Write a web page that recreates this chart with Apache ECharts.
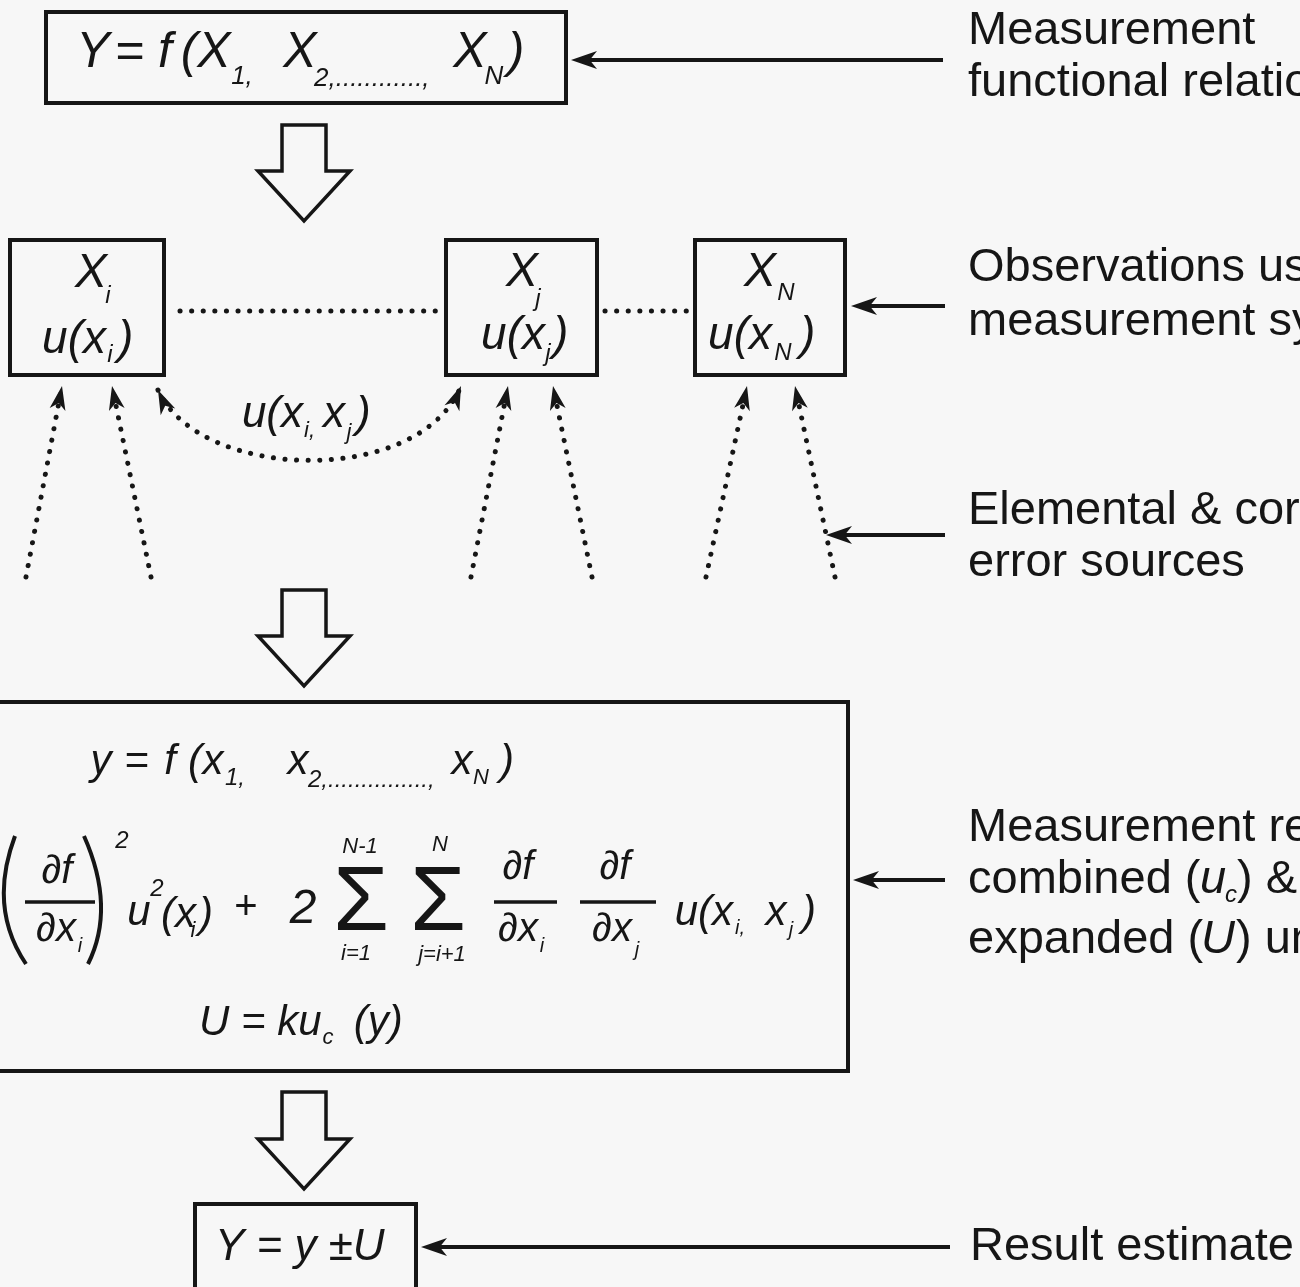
<!DOCTYPE html>
<html>
<head>
<meta charset="utf-8">
<title>Measurement uncertainty flow</title>
<script src="https://cdn.jsdelivr.net/npm/echarts@6/dist/echarts.min.js"></script>
<style>
  html, body { margin: 0; padding: 0; background: #f7f7f7; }
  #chart { width: 1300px; height: 1287px; }
</style>
</head>
<body>
<div id="chart"></div>
<script>
// drawing space = picture pixels, mapped through hidden value axes
const W = 1300
const H = 1287
const INK = '#161616'
const PAPER = '#f7f7f7'

// boxes: [x1, y1, x2, y2]
const boxes = [
  [46, 12, 566, 103],
  [10, 240, 164, 375],
  [446, 240, 597, 375],
  [695, 240, 845, 375],
  [-6, 702, 848, 1071],
  [195, 1204, 416, 1300]
]
// solid pointers from the side notes: [fromX, fromY, tipX, tipY]
const pointers = [
  [943, 60, 571, 60],
  [945, 306, 851, 306],
  [945, 535, 826, 535],
  [945, 880, 853, 880],
  [950, 1247, 421, 1247]
]
// hollow block arrows: [centerX, top, neck, tip]
const blockArrows = [
  [304, 125, 171, 221],
  [304, 590, 636, 686],
  [304, 1092, 1139, 1189]
]
// dotted links between the input boxes
const dottedLinks = [
  [180, 311, 440, 311],
  [605, 311, 688, 311]
]
// dotted arrows from the error sources up to the boxes: [fromX, fromY, tipX, tipY]
const sourceArrows = [
  [26, 577, 62, 386],
  [151, 577, 112, 386],
  [471, 577, 508, 386],
  [592, 577, 553, 386],
  [706, 577, 747, 386],
  [835, 577, 795, 386]
]
// correlation curve (cubic): start, control1, control2, end
const correlationCurve = [[158, 390], [200, 482], [420, 487], [461, 386]]
// big brackets of the formula (quadratic): [x1, y1, cpx, cpy, x2, y2]
const brackets = [
  [15, 836, -12, 908, 26, 964],
  [84, 836, 116, 908, 88, 964]
]
// fraction bars
const fractionBars = [
  [25, 902, 95, 902],
  [494, 902, 557, 902],
  [580, 902, 656, 902]
]
// text pieces: [x, y, text, size, 'i' italic | 'n' upright, align]
const texts = [
  // Y = f(X1, X2, ..., XN)
  [93, 53, 'Y', 50, 'i', 'c'],
  [130, 53, '=', 50, 'n', 'c'],
  [165, 53, 'f', 50, 'i', 'c'],
  [189, 53, '(', 50, 'i', 'c'],
  [214, 53, 'X', 50, 'i', 'c'],
  [242, 77, '1,', 26, 'i', 'c'],
  [300, 53, 'X', 50, 'i', 'c'],
  [314, 79, '2,............,', 26, 'i', 'l'],
  [470, 53, 'X', 50, 'i', 'c'],
  [494, 77, 'N', 26, 'i', 'c'],
  [516, 53, ')', 50, 'i', 'c'],
  // input boxes
  [91, 274, 'X', 48, 'i', 'c'],
  [108, 296, 'i', 24, 'i', 'c'],
  [106, 340, 'u(x', 46, 'i', 'r'],
  [110, 355, 'i', 24, 'i', 'c'],
  [118, 340, ')', 46, 'i', 'l'],
  [522, 273, 'X', 48, 'i', 'c'],
  [538, 299, 'j', 24, 'i', 'c'],
  [545, 336, 'u(x', 46, 'i', 'r'],
  [548, 354, 'j', 24, 'i', 'c'],
  [553, 336, ')', 46, 'i', 'l'],
  [760, 273, 'X', 48, 'i', 'c'],
  [786, 293, 'N', 24, 'i', 'c'],
  [772, 336, 'u(x', 46, 'i', 'r'],
  [783, 353, 'N', 24, 'i', 'c'],
  [800, 336, ')', 46, 'i', 'l'],
  // covariance label
  [303, 415, 'u(x', 44, 'i', 'r'],
  [304, 431, 'i,', 22, 'i', 'l'],
  [334, 415, 'x', 44, 'i', 'c'],
  [349, 433, 'j', 22, 'i', 'c'],
  [356, 415, ')', 44, 'i', 'l'],
  // y = f(x1, x2, ..., xN)
  [101, 762, 'y', 42, 'i', 'c'],
  [137, 762, '=', 42, 'n', 'c'],
  [170, 762, 'f', 42, 'i', 'c'],
  [195, 762, '(', 42, 'i', 'c'],
  [213, 762, 'x', 42, 'i', 'c'],
  [235, 778, '1,', 24, 'i', 'c'],
  [298, 762, 'x', 42, 'i', 'c'],
  [308, 780, '2,...............,', 24, 'i', 'l'],
  [462, 762, 'x', 42, 'i', 'c'],
  [481, 778, 'N', 22, 'i', 'c'],
  [507, 762, ')', 42, 'i', 'c'],
  // combined uncertainty
  [57, 872, '∂f', 40, 'i', 'c'],
  [56, 930, '∂x', 40, 'i', 'c'],
  [80, 946, 'i', 20, 'i', 'c'],
  [122, 841, '2', 24, 'i', 'c'],
  [139, 913, 'u', 42, 'i', 'c'],
  [157, 889, '2', 24, 'i', 'c'],
  [161, 915, '(x', 42, 'i', 'l'],
  [193, 931, 'i', 22, 'i', 'c'],
  [199, 915, ')', 42, 'i', 'l'],
  [246, 908, '+', 40, 'n', 'c'],
  [303, 910, '2', 48, 'i', 'c'],
  [361, 905, 'Σ', 90, 'n', 'c'],
  [360, 847, 'N-1', 22, 'i', 'c'],
  [356, 954, 'i=1', 22, 'i', 'c'],
  [438, 905, 'Σ', 90, 'n', 'c'],
  [440, 845, 'N', 22, 'i', 'c'],
  [442, 955, 'j=i+1', 22, 'i', 'c'],
  [518, 868, '∂f', 40, 'i', 'c'],
  [518, 930, '∂x', 40, 'i', 'c'],
  [542, 946, 'i', 20, 'i', 'c'],
  [615, 868, '∂f', 40, 'i', 'c'],
  [612, 930, '∂x', 40, 'i', 'c'],
  [637, 950, 'j', 20, 'i', 'c'],
  [733, 913, 'u(x', 42, 'i', 'r'],
  [735, 928, 'i,', 20, 'i', 'l'],
  [776, 913, 'x', 42, 'i', 'c'],
  [791, 930, 'j', 20, 'i', 'c'],
  [802, 913, ')', 42, 'i', 'l'],
  // U = k uc(y)
  [199, 1023, 'U = ku', 42, 'i', 'l'],
  [328, 1038, 'c', 22, 'i', 'c'],
  [342, 1023, ' (y)', 42, 'i', 'l'],
  // Y = y ± U
  [215, 1248, 'Y = y ±U', 44, 'i', 'l'],
  // side notes
  [968, 31, 'Measurement', 47, 'n', 'l'],
  [968, 83, 'functional relationship', 47, 'n', 'l'],
  [968, 268, 'Observations using', 47, 'n', 'l'],
  [968, 322, 'measurement system', 47, 'n', 'l'],
  [968, 511, 'Elemental & correlated', 47, 'n', 'l'],
  [968, 563, 'error sources', 47, 'n', 'l'],
  [968, 828, 'Measurement result', 47, 'n', 'l'],
  [968, 880, 'combined (', 47, 'n', 'l'],
  [1200, 880, 'u', 47, 'i', 'l'],
  [1225, 895, 'c', 24, 'i', 'l'],
  [1237, 880, ') & ', 47, 'n', 'l'],
  [968, 940, 'expanded (', 47, 'n', 'l'],
  [1201, 940, 'U', 47, 'i', 'l'],
  [1236, 940, ') uncertainty', 47, 'n', 'l'],
  [970, 1247, 'Result estimate', 47, 'n', 'l']
]

const ALIGN = { l: 'left', c: 'center', r: 'right' }

// filled arrow head pointing at tip, coming from "from"
function arrowHead (tip, from, len, half) {
  const dx = tip[0] - from[0]
  const dy = tip[1] - from[1]
  const d = Math.hypot(dx, dy)
  const ux = dx / d
  const uy = dy / d
  const bx = tip[0] - ux * len
  const by = tip[1] - uy * len
  return {
    type: 'polygon',
    shape: {
      points: [
        tip,
        [bx - uy * half, by + ux * half],
        [tip[0] - ux * len * 0.72, tip[1] - uy * len * 0.72],
        [bx + uy * half, by - ux * half]
      ]
    },
    style: { fill: INK }
  }
}

const dotStyle = { stroke: INK, lineWidth: 5, lineDash: [0.1, 11.5], lineCap: 'round', fill: null }

const chart = echarts.init(document.getElementById('chart'))
chart.setOption({
  backgroundColor: PAPER,
  animation: false,
  grid: { left: 0, right: 0, top: 0, bottom: 0 },
  xAxis: { type: 'value', min: 0, max: W, show: false },
  yAxis: { type: 'value', min: 0, max: H, inverse: true, show: false },
  series: [
    {
      type: 'custom',
      name: 'boxes',
      data: boxes,
      renderItem (params, api) {
        const a = api.coord([api.value(0), api.value(1)])
        const b = api.coord([api.value(2), api.value(3)])
        return {
          type: 'rect',
          shape: { x: a[0], y: a[1], width: b[0] - a[0], height: b[1] - a[1] },
          style: { fill: null, stroke: INK, lineWidth: 4 }
        }
      }
    },
    {
      type: 'custom',
      name: 'pointers',
      data: pointers,
      renderItem (params, api) {
        const from = api.coord([api.value(0), api.value(1)])
        const tip = api.coord([api.value(2), api.value(3)])
        return {
          type: 'group',
          children: [
            {
              type: 'line',
              shape: { x1: from[0], y1: from[1], x2: tip[0] + 12, y2: tip[1] },
              style: { stroke: INK, lineWidth: 4 }
            },
            arrowHead(tip, from, 26, 9)
          ]
        }
      }
    },
    {
      type: 'custom',
      name: 'blockArrows',
      data: blockArrows,
      renderItem (params, api) {
        const cx = api.value(0)
        const pts = [
          [cx - 22, api.value(1)], [cx + 22, api.value(1)], [cx + 22, api.value(2)],
          [cx + 46, api.value(2)], [cx, api.value(3)], [cx - 46, api.value(2)], [cx - 22, api.value(2)]
        ].map(p => api.coord(p))
        return {
          type: 'polygon',
          shape: { points: pts },
          style: { fill: PAPER, stroke: INK, lineWidth: 3.5, lineJoin: 'miter' }
        }
      }
    },
    {
      type: 'custom',
      name: 'dottedLinks',
      data: dottedLinks,
      renderItem (params, api) {
        const a = api.coord([api.value(0), api.value(1)])
        const b = api.coord([api.value(2), api.value(3)])
        return { type: 'line', shape: { x1: a[0], y1: a[1], x2: b[0], y2: b[1] }, style: dotStyle }
      }
    },
    {
      type: 'custom',
      name: 'sourceArrows',
      data: sourceArrows,
      renderItem (params, api) {
        const from = api.coord([api.value(0), api.value(1)])
        const tip = api.coord([api.value(2), api.value(3)])
        return {
          type: 'group',
          children: [
            { type: 'line', shape: { x1: from[0], y1: from[1], x2: tip[0], y2: tip[1] }, style: dotStyle },
            arrowHead(tip, from, 24, 8)
          ]
        }
      }
    },
    {
      type: 'custom',
      name: 'correlation',
      data: [correlationCurve[0]],
      renderItem (params, api) {
        const p = correlationCurve.map(q => api.coord(q))
        return {
          type: 'group',
          children: [
            {
              type: 'bezierCurve',
              shape: {
                x1: p[0][0], y1: p[0][1], cpx1: p[1][0], cpy1: p[1][1],
                cpx2: p[2][0], cpy2: p[2][1], x2: p[3][0], y2: p[3][1]
              },
              style: dotStyle
            },
            arrowHead(p[0], p[1], 24, 8),
            arrowHead(p[3], p[2], 24, 8)
          ]
        }
      }
    },
    {
      type: 'custom',
      name: 'brackets',
      data: brackets,
      renderItem (params, api) {
        const a = api.coord([api.value(0), api.value(1)])
        const c = api.coord([api.value(2), api.value(3)])
        const b = api.coord([api.value(4), api.value(5)])
        return {
          type: 'bezierCurve',
          shape: { x1: a[0], y1: a[1], cpx1: c[0], cpy1: c[1], x2: b[0], y2: b[1] },
          style: { stroke: INK, lineWidth: 4, fill: null }
        }
      }
    },
    {
      type: 'custom',
      name: 'fractionBars',
      data: fractionBars,
      renderItem (params, api) {
        const a = api.coord([api.value(0), api.value(1)])
        const b = api.coord([api.value(2), api.value(3)])
        return { type: 'line', shape: { x1: a[0], y1: a[1], x2: b[0], y2: b[1] }, style: { stroke: INK, lineWidth: 3.5 } }
      }
    },
    {
      type: 'custom',
      name: 'texts',
      data: texts.map(t => [t[0], t[1]]),
      renderItem (params, api) {
        const t = texts[params.dataIndex]
        const p = api.coord([api.value(0), api.value(1)])
        return {
          type: 'text',
          x: p[0],
          y: p[1],
          style: {
            text: t[2],
            font: (t[4] === 'i' ? 'italic ' : '') + t[3] + 'px "Liberation Sans", Arial, sans-serif',
            fill: INK,
            align: ALIGN[t[5]],
            verticalAlign: 'middle'
          }
        }
      }
    }
  ]
})
</script>
</body>
</html>
